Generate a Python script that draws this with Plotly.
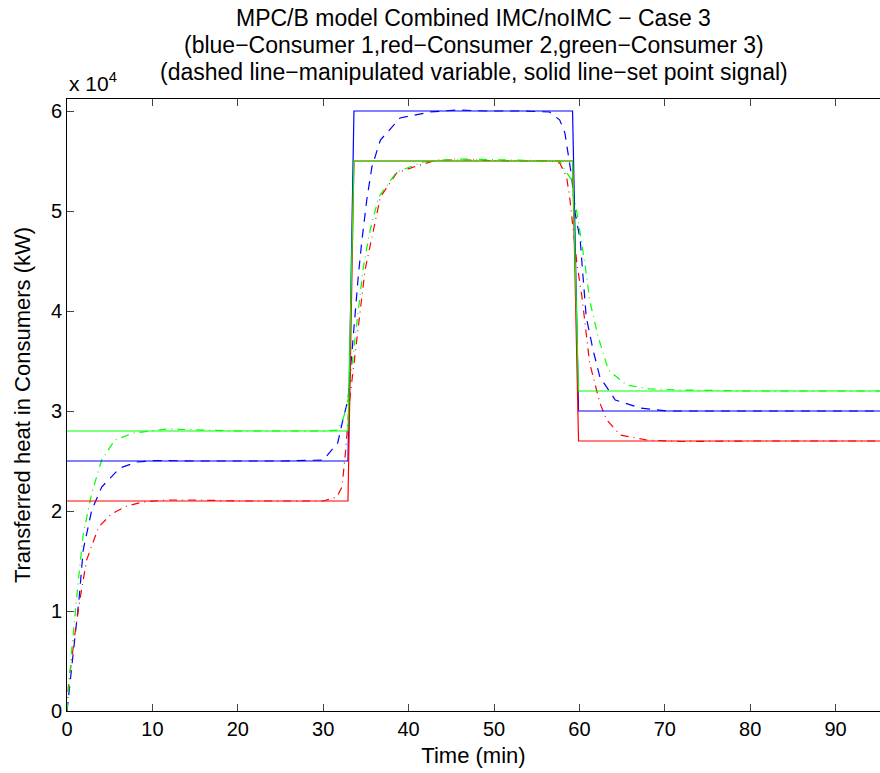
import plotly.graph_objects as go

# Set-point signals (solid)
t_sp = [0, 32.9, 33.6, 59.2, 59.9, 96]
sp_blue = [25000, 25000, 60000, 60000, 30000, 30000]
sp_red = [21000, 21000, 55000, 55000, 27000, 27000]
sp_green = [28000, 28000, 55000, 55000, 32000, 32000]

# Manipulated variables (dashed / dash-dot)
t_mv_blue = [0, 0.74, 1.4, 1.9, 2.9, 4.06, 6.2, 8.2, 10.5, 15, 20, 25, 30, 31.7, 32.3, 32.9,
             34.1, 34.5, 35.1, 35.7, 36.7, 39.0, 42.5, 45.6, 49.1, 53, 56.5, 57.7, 58.3, 58.7,
             59.1, 59.5, 60.1, 60.3, 60.8, 61.6, 62.4, 64.2, 67.1, 70.2, 80, 96]
mv_blue = [0, 5800, 11100, 16100, 20100, 22400, 24300, 24900, 25050, 25000, 25000, 25000, 25100, 26800, 29100, 31100,
           43400, 46800, 51100, 54400, 57100, 59300, 59900, 60100, 60000, 60000, 59900, 59100, 57800, 55800,
           53400, 49800, 47100, 44800, 39400, 36100, 33400, 31100, 30300, 30000, 30000, 30000]

t_mv_red = [0, 0.15, 0.94, 1.5, 2.3, 3.7, 5.2, 7.0, 8.9, 11.7, 15, 20, 25, 30, 31.6, 32.2, 32.6, 33.1,
            34.9, 36.7, 38.6, 40.6, 43.3, 47, 52, 56.5, 57.7, 58.5, 58.9, 59.7, 60.3, 61.2, 62.4, 63.2,
            64.8, 67.9, 72, 80, 96]
mv_red = [0, 2400, 7800, 11100, 15100, 18400, 19700, 20500, 20900, 21100, 21100, 21000, 21000, 21000, 21400, 22400, 25800, 31100,
          44100, 51400, 53800, 54400, 55100, 55100, 55000, 55000, 54800, 53400, 51100, 44800, 41400, 34800, 30800, 29100,
          27600, 27100, 26950, 27000, 27000]

t_mv_green = [0, 0.55, 1.3, 1.9, 2.9, 4.06, 5.6, 7.8, 11.7, 15, 20, 25, 30, 31.7, 32.4, 32.9,
              34.7, 35.5, 36.5, 38.6, 41.7, 45.6, 50, 55, 57.7, 58.3, 59.1, 59.9, 60.7, 61.2, 62.2,
              63.4, 65.5, 68.3, 72, 80, 96]
mv_green = [0, 6100, 12800, 17700, 21800, 25100, 27100, 27800, 28200, 28100, 28000, 28000, 28000, 28100, 29400, 31100,
            44400, 48100, 51400, 53900, 54900, 55200, 55100, 55000, 55000, 54100, 53100, 48800, 44400, 41100, 37400,
            34100, 32600, 32200, 32100, 32000, 32000]

y_tickvals = [0, 10000, 20000, 30000, 40000, 50000, 60000]
y_ticktext = ["0", "1", "2", "3", "4", "5", "6"]
x_tickvals = [0, 10, 20, 30, 40, 50, 60, 70, 80, 90]

BLUE = "#0000ff"
RED = "#ff0000"
GREEN = "#00ff00"
FONT = "Liberation Sans, Arial, Helvetica, sans-serif"

fig = go.Figure()
fig.add_trace(go.Scatter(x=t_mv_blue, y=mv_blue, mode="lines",
                         line=dict(color=BLUE, width=1.2, dash="9px,7px")))
fig.add_trace(go.Scatter(x=t_mv_red, y=mv_red, mode="lines",
                         line=dict(color=RED, width=1.2, dash="8px,5px,1px,5px")))
fig.add_trace(go.Scatter(x=t_mv_green, y=mv_green, mode="lines",
                         line=dict(color=GREEN, width=1.2, dash="8px,5px,1px,5px")))
fig.add_trace(go.Scatter(x=t_sp, y=sp_blue, mode="lines", line=dict(color=BLUE, width=1.2)))
fig.add_trace(go.Scatter(x=t_sp, y=sp_red, mode="lines", line=dict(color=RED, width=1.2)))
fig.add_trace(go.Scatter(x=t_sp, y=sp_green, mode="lines", line=dict(color=GREEN, width=1.2)))

def py(p):
    return (711 - p) / 612.0

titles = [
    ("MPC/B model Combined IMC/noIMC − Case 3", 18),
    ("(blue−Consumer 1,red−Consumer 2,green−Consumer 3)", 45),
    ("(dashed line−manipulated variable, solid line−set point signal)", 72),
]
annotations = []
for txt, p in titles:
    annotations.append(dict(text=txt, x=0.5, y=py(p), xref="paper", yref="paper",
                            xanchor="center", yanchor="middle", showarrow=False,
                            font=dict(size=23, color="black", family=FONT)))
annotations.append(dict(text="x 10<sup>4</sup>", x=0, y=py(82), xref="paper", yref="paper",
                        xanchor="left", yanchor="middle", showarrow=False,
                        font=dict(size=21, color="black", family=FONT)))

fig.update_layout(
    width=880, height=773,
    margin=dict(l=67, r=0, t=99, b=62),
    paper_bgcolor="white", plot_bgcolor="white",
    showlegend=False,
    font=dict(family=FONT, size=20, color="black"),
    annotations=annotations,
    xaxis=dict(range=[0, 95.2], tickvals=x_tickvals, ticks="inside", ticklen=7,
               showline=True, linecolor="black", linewidth=1, mirror="ticks",
               showgrid=False, zeroline=False,
               title=dict(text="Time (min)", font=dict(size=22), standoff=8),
               tickfont=dict(size=20)),
    yaxis=dict(range=[0, 61200], tickvals=y_tickvals, ticktext=y_ticktext,
               ticks="inside", ticklen=7, showline=True, linecolor="black", linewidth=1,
               showgrid=False, zeroline=False,
               title=dict(text="Transferred heat in Consumers (kW)", font=dict(size=22), standoff=14),
               tickfont=dict(size=20)),
)

fig.write_html("out.html")
